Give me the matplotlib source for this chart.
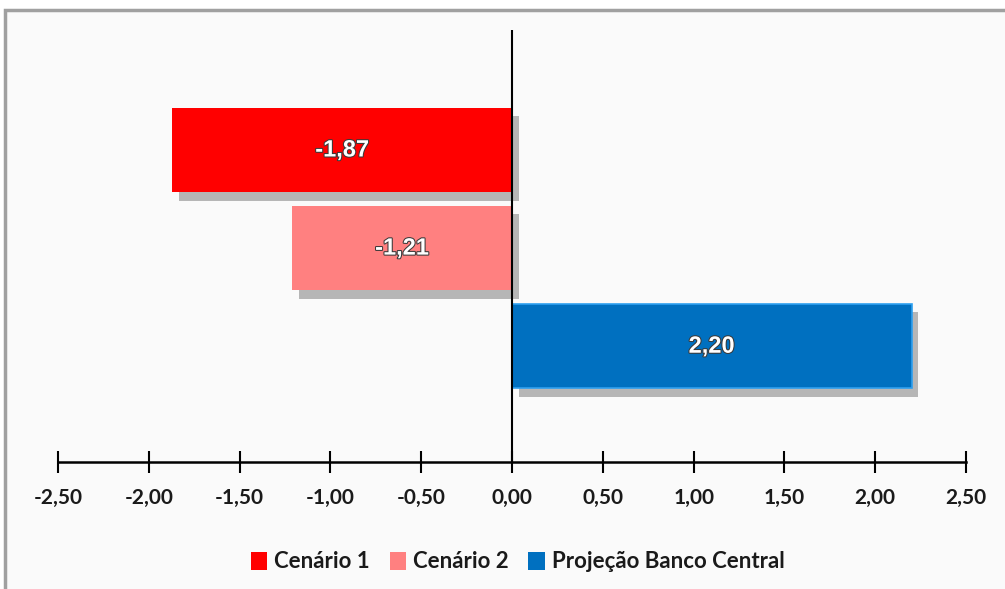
import matplotlib
matplotlib.use("Agg")
import matplotlib.pyplot as plt
import matplotlib.patheffects as pe
from matplotlib.patches import Rectangle, Patch

series = ["Cenário 1", "Cenário 2", "Projeção Banco Central"]
values = [-1.87, -1.21, 2.20]
colors = ["#FF0000", "#FF8080", "#0070C0"]
xticks = [-2.5, -2.0, -1.5, -1.0, -0.5, 0.0, 0.5, 1.0, 1.5, 2.0, 2.5]

fig = plt.figure(figsize=(10.05, 5.89), dpi=100)
fig.patch.set_facecolor("white")
# frame around the chart area
fig.patches.append(Rectangle((0.005, -0.01), 1.2, 0.993, transform=fig.transFigure,
                             facecolor="#FAFAFA", edgecolor="#A0A0A0", lw=2.5, zorder=-1))

ax = fig.add_axes([0.0577, 0.2156, 0.9035, 0.733])
ax.set_facecolor("none")

pos = list(range(len(values)))
shadow = [pe.SimplePatchShadow(offset=(5, -6), shadow_rgbFace="#505050", alpha=0.4), pe.Normal()]
bars = ax.barh(pos, values, height=0.86, color=colors, zorder=3)
for b in bars:
    b.set_path_effects(shadow)
bars[2].set_edgecolor("#2EA0F0")
bars[2].set_linewidth(1.2)

for p, v in zip(pos, values):
    ax.text(v / 2, p, f"{v:.2f}".replace(".", ","), ha="center", va="center",
            color="white", fontsize=17, fontweight="bold", family="Liberation Sans", zorder=5,
            path_effects=[pe.withStroke(linewidth=1.5, foreground="#3a3a3a")])

ax.set_xlim(-2.5, 2.5)
ax.set_ylim(len(values) - 1 + 1.18, -1.22)
ax.axvline(0, color="black", lw=1.5, zorder=4)

for s in ["top", "right", "left"]:
    ax.spines[s].set_visible(False)
ax.spines["bottom"].set_linewidth(1.8)
ax.set_yticks([])
ax.set_xticks(xticks)
ax.set_xticklabels([f"{t:.2f}".replace(".", ",") for t in xticks],
                   fontsize=15, fontweight="bold", family="Lato", color="#1a1a1a")
ax.tick_params(axis="x", direction="inout", length=16, width=1.5, pad=11)

handles = [Patch(facecolor=c) for c in colors]
fig.legend(handles, series, loc="center", bbox_to_anchor=(0.515, 0.046), ncol=3, frameon=False,
           prop={"family": "Lato", "weight": "bold", "size": 16}, handlelength=0.75,
           handleheight=0.85, handletextpad=0.3, columnspacing=0.9, labelcolor="#1a1a1a")

fig.savefig("out.png", dpi=100)
